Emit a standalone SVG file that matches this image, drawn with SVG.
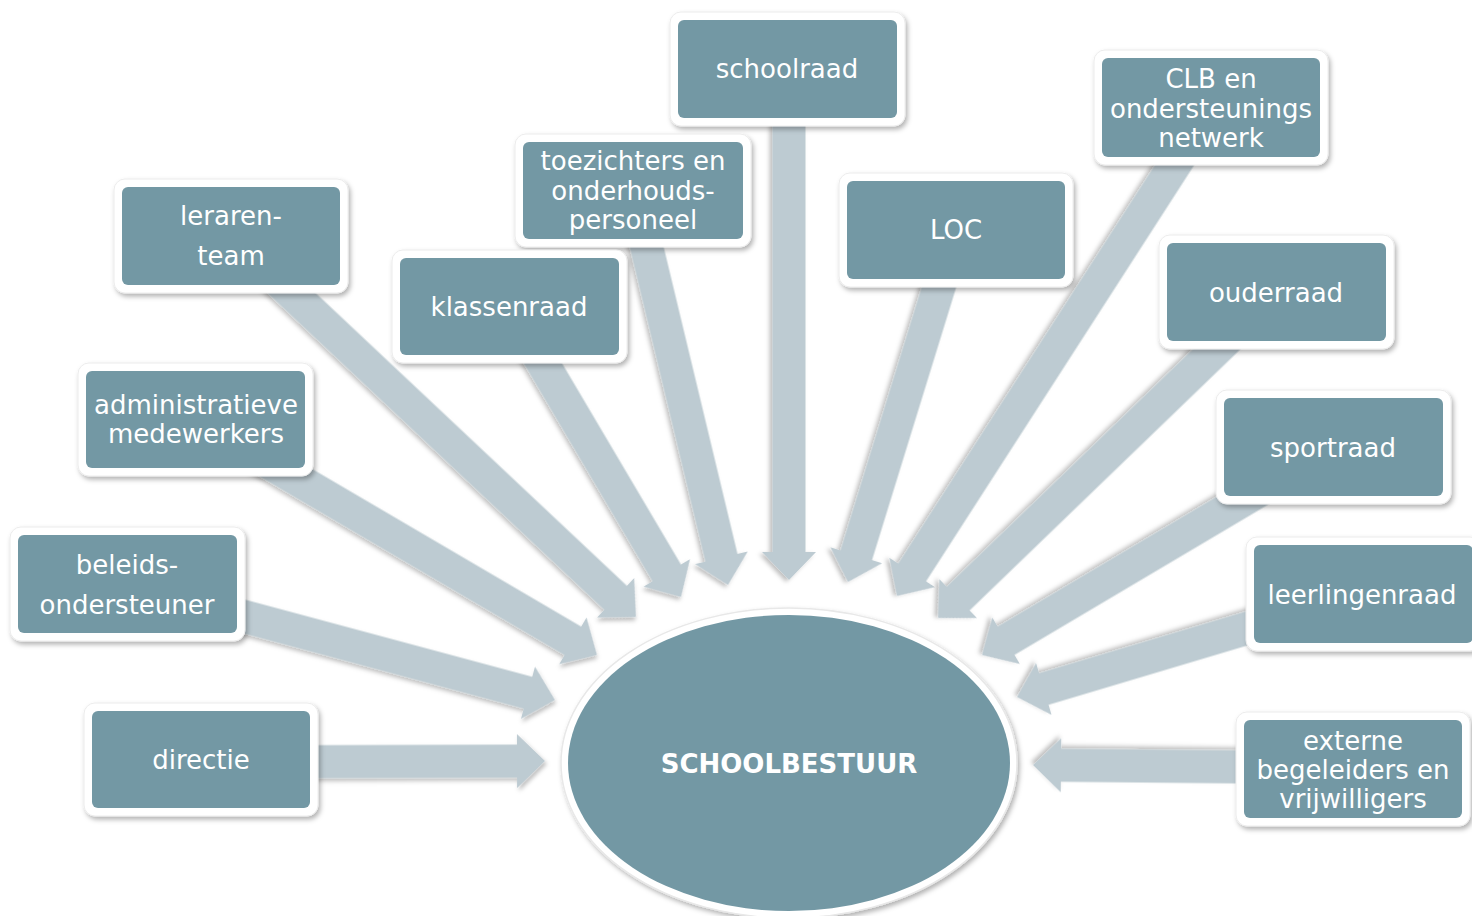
<svg xmlns="http://www.w3.org/2000/svg" width="1472" height="916" viewBox="0 0 1472 916">
<defs>
<filter id="sh" x="-20%" y="-20%" width="140%" height="140%">
<feDropShadow dx="2" dy="3" stdDeviation="2.5" flood-color="#000" flood-opacity="0.3"/>
</filter>
<filter id="ash" x="-20%" y="-20%" width="140%" height="140%">
<feDropShadow dx="2" dy="3" stdDeviation="2" flood-color="#000" flood-opacity="0.25"/>
</filter>
</defs>
<style>
.frame{fill:#ffffff;stroke:#ececec;stroke-width:1;filter:url(#sh)}
.box{fill:#7398a4}
.lbl{font-family:"DejaVu Sans",Verdana,sans-serif;font-size:26px;fill:#ffffff;text-anchor:middle}
.big{font-weight:bold}
.arr{fill:#bdcbd2;filter:url(#ash)}
</style>
<rect width="1472" height="916" fill="#ffffff"/>
<g id="connectors">
<polygon class="arr" transform="translate(545,761) rotate(-0.17)" points="0,0 -28,-27 -28,-16.5 -344,-16.5 -344,16.5 -28,16.5 -28,27"/>
<polygon class="arr" transform="translate(555,700) rotate(15.04)" points="0,0 -28,-27 -28,-16.5 -443,-16.5 -443,16.5 -28,16.5 -28,27"/>
<polygon class="arr" transform="translate(597,655) rotate(30.37)" points="0,0 -28,-27 -28,-16.5 -465,-16.5 -465,16.5 -28,16.5 -28,27"/>
<polygon class="arr" transform="translate(636,617) rotate(43.25)" points="0,0 -28,-27 -28,-16.5 -556,-16.5 -556,16.5 -28,16.5 -28,27"/>
<polygon class="arr" transform="translate(681,597) rotate(59.42)" points="0,0 -28,-27 -28,-16.5 -338,-16.5 -338,16.5 -28,16.5 -28,27"/>
<polygon class="arr" transform="translate(728,585) rotate(76.48)" points="0,0 -28,-27 -28,-16.5 -406,-16.5 -406,16.5 -28,16.5 -28,27"/>
<polygon class="arr" transform="translate(789,580) rotate(90)" points="0,0 -28,-27 -28,-16.5 -511,-16.5 -511,16.5 -28,16.5 -28,27"/>
<polygon class="arr" transform="translate(848,582) rotate(107.15)" points="0,0 -28,-27 -28,-16.5 -368,-16.5 -368,16.5 -28,16.5 -28,27"/>
<polygon class="arr" transform="translate(897,596) rotate(122.79)" points="0,0 -28,-27 -28,-16.5 -580,-16.5 -580,16.5 -28,16.5 -28,27"/>
<polygon class="arr" transform="translate(938,618) rotate(136.04)" points="0,0 -28,-27 -28,-16.5 -470,-16.5 -470,16.5 -28,16.5 -28,27"/>
<polygon class="arr" transform="translate(982,655) rotate(149.35)" points="0,0 -28,-27 -28,-16.5 -408,-16.5 -408,16.5 -28,16.5 -28,27"/>
<polygon class="arr" transform="translate(1017,697) rotate(163.38)" points="0,0 -28,-27 -28,-16.5 -360,-16.5 -360,16.5 -28,16.5 -28,27"/>
<polygon class="arr" transform="translate(1033,765) rotate(180.54)" points="0,0 -28,-27 -28,-16.5 -320,-16.5 -320,16.5 -28,16.5 -28,27"/>
</g>
<g id="schoolbestuur">
<ellipse cx="789" cy="763" rx="228" ry="155" fill="#ffffff" stroke="#e8e8e8" stroke-width="1.5" filter="url(#sh)"/>
<ellipse cx="789" cy="763" rx="221" ry="148" class="box"/>
<text class="lbl big" x="789" y="773">SCHOOLBESTUUR</text>
</g>
<g id="schoolraad">
<rect class="frame" x="670" y="12" width="235" height="114" rx="11"/>
<rect class="box" x="678" y="20" width="219" height="98" rx="6"/>
<text class="lbl" x="787" y="78">schoolraad</text>
</g>
<g id="clb">
<rect class="frame" x="1094" y="50" width="234" height="115" rx="11"/>
<rect class="box" x="1102" y="58" width="218" height="99" rx="6"/>
<text class="lbl" x="1211" y="88">CLB en</text>
<text class="lbl" x="1211" y="118">ondersteunings</text>
<text class="lbl" x="1211" y="147">netwerk</text>
</g>
<g id="toezichters">
<rect class="frame" x="515" y="134" width="236" height="113" rx="11"/>
<rect class="box" x="523" y="142" width="220" height="97" rx="6"/>
<text class="lbl" x="633" y="170">toezichters en</text>
<text class="lbl" x="633" y="200">onderhouds-</text>
<text class="lbl" x="633" y="229">personeel</text>
</g>
<g id="leraren">
<rect class="frame" x="114" y="179" width="234" height="114" rx="11"/>
<rect class="box" x="122" y="187" width="218" height="98" rx="6"/>
<text class="lbl" x="231" y="225">leraren-</text>
<text class="lbl" x="231" y="265">team</text>
</g>
<g id="loc">
<rect class="frame" x="839" y="173" width="234" height="114" rx="11"/>
<rect class="box" x="847" y="181" width="218" height="98" rx="6"/>
<text class="lbl" x="956" y="239">LOC</text>
</g>
<g id="klassenraad">
<rect class="frame" x="392" y="250" width="235" height="113" rx="11"/>
<rect class="box" x="400" y="258" width="219" height="97" rx="6"/>
<text class="lbl" x="509" y="316">klassenraad</text>
</g>
<g id="ouderraad">
<rect class="frame" x="1159" y="235" width="235" height="114" rx="11"/>
<rect class="box" x="1167" y="243" width="219" height="98" rx="6"/>
<text class="lbl" x="1276" y="302">ouderraad</text>
</g>
<g id="administratieve">
<rect class="frame" x="78" y="363" width="235" height="113" rx="11"/>
<rect class="box" x="86" y="371" width="219" height="97" rx="6"/>
<text class="lbl" x="196" y="414">administratieve</text>
<text class="lbl" x="196" y="443">medewerkers</text>
</g>
<g id="sportraad">
<rect class="frame" x="1216" y="390" width="235" height="114" rx="11"/>
<rect class="box" x="1224" y="398" width="219" height="98" rx="6"/>
<text class="lbl" x="1333" y="457">sportraad</text>
</g>
<g id="beleids">
<rect class="frame" x="10" y="527" width="235" height="114" rx="11"/>
<rect class="box" x="18" y="535" width="219" height="98" rx="6"/>
<text class="lbl" x="127" y="574">beleids-</text>
<text class="lbl" x="127" y="614">ondersteuner</text>
</g>
<g id="leerlingenraad">
<rect class="frame" x="1246" y="537" width="235" height="114" rx="11"/>
<rect class="box" x="1254" y="545" width="219" height="98" rx="6"/>
<text class="lbl" x="1362" y="604">leerlingenraad</text>
</g>
<g id="directie">
<rect class="frame" x="84" y="703" width="234" height="113" rx="11"/>
<rect class="box" x="92" y="711" width="218" height="97" rx="6"/>
<text class="lbl" x="201" y="769">directie</text>
</g>
<g id="externe">
<rect class="frame" x="1236" y="712" width="234" height="114" rx="11"/>
<rect class="box" x="1244" y="720" width="218" height="98" rx="6"/>
<text class="lbl" x="1353" y="750">externe</text>
<text class="lbl" x="1353" y="779">begeleiders en</text>
<text class="lbl" x="1353" y="808">vrijwilligers</text>
</g>
</svg>
